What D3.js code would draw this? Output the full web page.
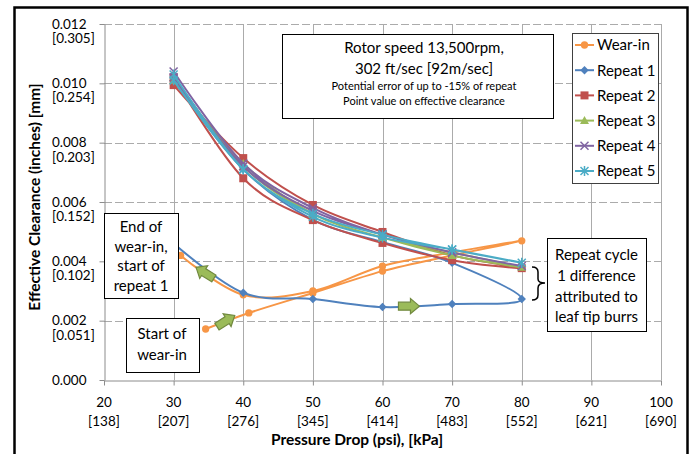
<!DOCTYPE html>
<html><head><meta charset="utf-8">
<script src="https://cdn.jsdelivr.net/npm/d3@7"></script>
<style>
body{margin:0;background:#fff}
text{font-family:Lato,"Open Sans",sans-serif;fill:#000}
</style>
</head><body><svg id="c" width="692" height="454"></svg>
<script>
// ---------- data ----------
const seriesNames = ["Wear-in","Repeat 1","Repeat 2","Repeat 3","Repeat 4","Repeat 5"];
const wearInPsi = [34.6,40.8,50,60,70,80,70,60,50,40,31];
const wearInVal = [0.00172,0.00226,0.00293,0.00367,0.0042,0.00469,0.0043,0.00384,0.00300,0.00287,0.0042];
const repeat1Psi = [30,40,50,60,70,80,70,60,50,40,30];
const repeat1Val = [0.0046,0.00294,0.00273,0.00246,0.00256,0.00273,0.00395,0.00465,0.0054,0.0071,0.0101];
const repeat2Psi = [30,40,50,60,70,80,70,60,50,40,30];
const repeat2Val = [0.0102,0.0068,0.00539,0.00462,0.00404,0.00377,0.0042,0.00499,0.0059,0.00748,0.00994];
const repeat3Psi = [30,40,50,60,70,80,70,60,50,40,30];
const repeat3Val = [0.0102,0.0072,0.0056,0.0048,0.0043,0.0038,0.0042,0.0048,0.0056,0.0073,0.0101];
const repeat4Psi = [30,40,50,60,70,80,70,60,50,40,30];
const repeat4Val = [0.0104,0.0073,0.0058,0.0049,0.0043,0.00384,0.0043,0.0049,0.0057,0.0072,0.0102];
const repeat5Psi = [30,40,50,60,70,80,70,60,50,40,30];
const repeat5Val = [0.0103,0.0071,0.0056,0.0049,0.0044,0.00395,0.0044,0.0048,0.0055,0.0071,0.0101];

const xTicks = [20,30,40,50,60,70,80,90,100];
const xTickKpa = ["[138]","[207]","[276]","[345]","[414]","[483]","[552]","[621]","[690]"];
const yTicks = [0,0.002,0.004,0.006,0.008,0.010,0.012];
const yTickMm = ["","[0.051]","[0.102]","[0.152]","[0.203]","[0.254]","[0.305]"];

const colors = ["#F79646","#4F81BD","#C0504D","#9BBB59","#8064A2","#4BACC6"];
const markers = ["circle","diamond","square","triangle","x","star"];

const infoLines = ["Rotor speed  13,500rpm,","302 ft/sec  [92m/sec]","Potential error of up to -15% of repeat","Point value on effective clearance"];
const endLines = ["End of","wear-in,","start of","repeat 1"];
const startLines = ["Start of","wear-in"];
const burrLines = ["Repeat cycle","1 difference","attributed to","leaf tip burrs"];

// arrows: [psi, value, angle(deg, screen)]
const arrowPsi = [34.5,37.5,63.8];
const arrowVal = [0.00361,0.00199,0.00249];
const arrowAng = [212,-32,0];

// ---------- chart ----------
const svg = d3.select("#c");
const x = d3.scaleLinear().domain([20,100]).range([104,661]);
const y = d3.scaleLinear().domain([0,0.012]).range([380,24]);

const series = [
  [wearInPsi,wearInVal],[repeat1Psi,repeat1Val],[repeat2Psi,repeat2Val],
  [repeat3Psi,repeat3Val],[repeat4Psi,repeat4Val],[repeat5Psi,repeat5Val]
].map(([p,v],i)=>({name:seriesNames[i],color:colors[i],marker:markers[i],pts:p.map((d,j)=>[d,v[j]])}));

// outer frame
svg.append("rect").attr("x",14.5).attr("y",7.5).attr("width",673).attr("height",470)
  .attr("fill","#fff").attr("stroke","#000").attr("stroke-width",2.5);

// grid
const g = svg.append("g");
g.selectAll("line.h").data(yTicks.slice(1)).join("line")
  .attr("x1",x(20)).attr("x2",x(100)).attr("y1",d=>Math.round(y(d))+0.5).attr("y2",d=>Math.round(y(d))+0.5)
  .attr("stroke","#ABABAB").attr("stroke-width",1).attr("stroke-dasharray","8,3");
g.selectAll("line.v").data(xTicks.slice(1)).join("line")
  .attr("y1",y(0)).attr("y2",y(0.012)).attr("x1",d=>Math.round(x(d))+0.5).attr("x2",d=>Math.round(x(d))+0.5)
  .attr("stroke","#ABABAB").attr("stroke-width",1);

// axes
const yAxis = svg.append("g").attr("transform",`translate(${Math.round(x(20))+0.5},0)`)
  .call(d3.axisLeft(y).tickValues(yTicks).tickSize(5).tickSizeOuter(0).tickFormat(""));
const xAxis = svg.append("g").attr("transform",`translate(0,${Math.round(y(0))+0.5})`)
  .call(d3.axisBottom(x).tickValues(xTicks).tickSize(5).tickSizeOuter(0).tickFormat(""));
[yAxis,xAxis].forEach(a=>{a.selectAll("path,line").attr("stroke","#8C8C8C");});

// y labels
const yl = svg.append("g").attr("font-size",13.5);
yTicks.forEach((t,i)=>{
  yl.append("text").attr("x",52).attr("y",y(t)+4.5).text(t.toFixed(3));
  if (yTickMm[i]) yl.append("text").attr("x",52).attr("y",y(t)+19).text(yTickMm[i]);
});
// x labels
const xl = svg.append("g").attr("font-size",13.5).attr("text-anchor","middle");
xTicks.forEach((t,i)=>{
  xl.append("text").attr("x",x(t)).attr("y",407).text(t);
  xl.append("text").attr("x",x(t)).attr("y",426).text(xTickKpa[i]);
});
// titles
svg.append("text").attr("transform","translate(40,197) rotate(-90)").attr("text-anchor","middle")
  .attr("font-weight","bold").attr("font-size",15.5).text("Effective Clearance (inches)  [mm]");
svg.append("text").attr("x",357).attr("y",445).attr("text-anchor","middle")
  .attr("font-weight","bold").attr("font-size",15.5).text("Pressure Drop (psi), [kPa]");

// marker drawing
function drawMarker(sel, type, color, cx, cy){
  const gg = sel.append("g").attr("transform",`translate(${cx},${cy})`);
  if (type==="circle") gg.append("path").attr("d",d3.symbol(d3.symbolCircle,42)()).attr("fill",color);
  else if (type==="diamond") gg.append("path").attr("d","M0,-4.2L4.2,0L0,4.2L-4.2,0Z").attr("fill",color);
  else if (type==="square") gg.append("path").attr("d","M-4,-4H4V4H-4Z").attr("fill",color);
  else if (type==="triangle") gg.append("path").attr("d","M0,-4.5L4.5,3.5L-4.5,3.5Z").attr("fill",color);
  else if (type==="x") gg.append("path").attr("d","M-4,-4L4,4M-4,4L4,-4").attr("stroke",color).attr("stroke-width",1.5);
  else if (type==="star") gg.append("path").attr("d","M-4,-4L4,4M-4,4L4,-4M0,-5V5").attr("stroke",color).attr("stroke-width",1.5);
}

// series
const line = d3.line().x(d=>x(d[0])).y(d=>y(d[1])).curve(d3.curveCatmullRom.alpha(0));
const sg = svg.append("g");
series.forEach(s=>{
  sg.append("path").attr("d",line(s.pts)).attr("fill","none").attr("stroke",s.color).attr("stroke-width",2);
  s.pts.forEach(p=>drawMarker(sg,s.marker,s.color,x(p[0]),y(p[1])));
});

// arrows
function blockArrow(cx,cy,ang){
  const L=21, bw=4, hw=7.5, hl=9;
  const pts=[[-L/2,-bw],[L/2-hl,-bw],[L/2-hl,-hw],[L/2,0],[L/2-hl,hw],[L/2-hl,bw],[-L/2,bw]];
  svg.append("path").attr("d","M"+pts.map(p=>p.join(",")).join("L")+"Z")
    .attr("transform",`translate(${cx},${cy}) rotate(${ang})`)
    .attr("fill","#9BBB59").attr("stroke","#71893F").attr("stroke-width",1.2);
}
arrowPsi.forEach((p,i)=>blockArrow(x(p),y(arrowVal[i]),arrowAng[i]));

// text boxes
function textBox(x0,y0,x1,y1,lines,cx,lineYs,sizes){
  svg.append("rect").attr("x",x0+0.5).attr("y",y0+0.5).attr("width",x1-x0).attr("height",y1-y0)
    .attr("fill","#fff").attr("stroke","#000").attr("stroke-width",1);
  lines.forEach((t,i)=>svg.append("text").attr("x",cx).attr("y",lineYs[i]+sizes[i]*0.36)
    .attr("text-anchor","middle").attr("font-size",sizes[i]).text(t));
}
textBox(282,34,553,118,infoLines,424,[48,69,86,101],[15,15,11,11]);
textBox(104,213,178,298,endLines,141,[227,247,266,286],[15,15,15,15]);
textBox(126,318,199,372,startLines,162,[334,355],[15,15]);
textBox(547,238,646,331,burrLines,596.5,[255,276,297,317],[15,15,15,15]);

// brace
svg.append("path").attr("d","M532,267 Q538,267 538,272 L538,279 Q538,283 545,283 Q538,283 538,288 L538,295 Q538,300 532,300")
  .attr("fill","none").attr("stroke","#000").attr("stroke-width",1.5);

// legend
const lg = svg.append("g");
lg.append("rect").attr("x",572.5).attr("y",33.5).attr("width",86).attr("height",150)
  .attr("fill","#fff").attr("stroke","#404040").attr("stroke-width",1);
series.forEach((s,i)=>{
  const ly = 45 + i*25.2;
  lg.append("line").attr("x1",575).attr("x2",594).attr("y1",ly).attr("y2",ly).attr("stroke",s.color).attr("stroke-width",2);
  drawMarker(lg,s.marker,s.color,584.5,ly);
  lg.append("text").attr("x",597).attr("y",ly+5.4).attr("font-size",15).text(s.name);
});
</script></body></html>
